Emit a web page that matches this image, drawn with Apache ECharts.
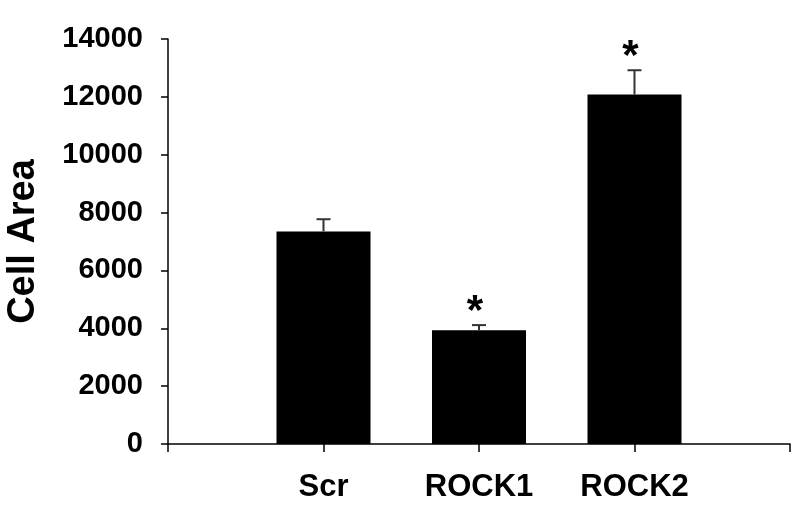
<!DOCTYPE html>
<html>
<head>
<meta charset="utf-8">
<script src="https://cdn.jsdelivr.net/npm/echarts@6/dist/echarts.min.js"></script>
<style>
  html, body { margin: 0; padding: 0; background: #fff; }
  #main { width: 800px; height: 509px; }
</style>
</head>
<body>
<div id="main"></div>
<script>
// categories (empty ends give the outer ticks)
var categories = ['', 'Scr', 'ROCK1', 'ROCK2', ''];
var means = [null, 7350, 3930, 12080, null];
var errors = [null, 420, 180, 840, null];
var stars = ['', '', '*', '*', ''];
var yTicks = [0, 2000, 4000, 6000, 8000, 10000, 12000, 14000];

var chart = echarts.init(document.getElementById('main'));

var errData = [];
for (var i = 0; i < categories.length; i++) {
  if (means[i] != null) errData.push([i, means[i], errors[i], stars[i]]);
}

var font = 'Liberation Sans, Arial, sans-serif';

var option = {
  animation: false,
  grid: { left: 168, right: 10, top: 39, bottom: 65, containLabel: false, outerBoundsMode: 'none' },
  xAxis: {
    type: 'category',
    data: categories,
    boundaryGap: false,
    axisLine: { lineStyle: { color: '#000', width: 1.5 } },
    axisTick: { show: true, length: 8, lineStyle: { color: '#000', width: 1.5 } },
    axisLabel: { color: '#000', fontFamily: font, fontWeight: 'bold', fontSize: 31, margin: 28 }
  },
  yAxis: {
    type: 'value',
    min: yTicks[0],
    max: yTicks[yTicks.length - 1],
    interval: 2000,
    name: 'Cell Area',
    nameLocation: 'middle',
    nameGap: 125,
    nameTextStyle: { color: '#000', fontFamily: font, fontWeight: 'bold', fontSize: 38 },
    splitLine: { show: false },
    axisLine: { show: true, lineStyle: { color: '#000', width: 1.5 } },
    axisTick: { show: true, length: 7, lineStyle: { color: '#000', width: 1.5 } },
    axisLabel: { color: '#000', fontFamily: font, fontWeight: 'bold', fontSize: 29, margin: 25,
                 formatter: function (v) { return String(v); } }
  },
  series: [
    {
      type: 'bar',
      data: means,
      barWidth: 94,
      itemStyle: { color: '#000' }
    },
    {
      type: 'custom',
      data: errData,
      z: 5,
      renderItem: function (params, api) {
        var x = api.value(0);
        var base = api.coord([x, api.value(1)]);
        var top = api.coord([x, api.value(1) + api.value(2)]);
        var children = [
          { type: 'line', shape: { x1: base[0], y1: base[1], x2: top[0], y2: top[1] },
            style: { stroke: '#333', lineWidth: 2 } },
          { type: 'line', shape: { x1: top[0] - 7, y1: top[1], x2: top[0] + 7, y2: top[1] },
            style: { stroke: '#333', lineWidth: 2 } }
        ];
        var s = api.value(3);
        if (s) {
          children.push({
            type: 'text',
            style: { text: s, x: top[0] - 4, y: top[1] - 13, align: 'center', verticalAlign: 'middle',
                     fill: '#000', font: 'bold 42px ' + font }
          });
        }
        return { type: 'group', children: children };
      }
    }
  ]
};

chart.setOption(option);
</script>
</body>
</html>
